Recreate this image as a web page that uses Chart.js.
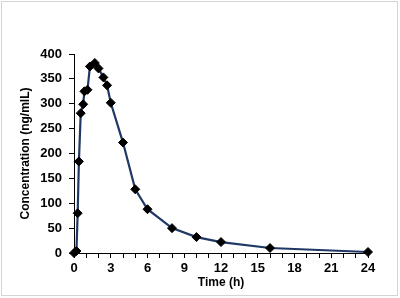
<!DOCTYPE html>
<html>
<head>
<meta charset="utf-8">
<script src="https://cdn.jsdelivr.net/npm/chart.js@4/dist/chart.umd.min.js"></script>
<style>
html,body{margin:0;padding:0;background:#fff;}
#wrap{width:400px;height:298px;position:relative;}
</style>
</head>
<body>
<div id="wrap"><canvas id="c" width="400" height="298"></canvas></div>
<script>
const timeHours = [0, 0.2, 0.3, 0.4, 0.55, 0.75, 0.85, 1.1, 1.3, 1.7, 2, 2.4, 2.7, 3, 4, 5, 6, 8, 10, 12, 16, 24];
const concentration = [0, 4, 80, 184, 281, 299, 325, 328, 375, 382, 371, 353, 337, 302, 222, 128, 88, 50, 32, 22, 10, 2];
const xTickLabels = ['0', '3', '6', '9', '12', '15', '18', '21', '24'];
const yTickLabels = ['0', '50', '100', '150', '200', '250', '300', '350', '400'];

const points = timeHours.map((t, i) => ({x: t, y: concentration[i]}));
const tickFont = {family: 'Liberation Sans, Arial, sans-serif', size: 13, weight: 'bold'};
const titleFont = {family: 'Liberation Sans, Arial, sans-serif', size: 12, weight: 'bold'};

const framePlugin = {
  id: 'frame',
  afterDraw(chart) {
    const ctx = chart.ctx;
    ctx.save();
    ctx.strokeStyle = '#d4d4d4';
    ctx.lineWidth = 1;
    ctx.strokeRect(1.5, 1.5, 396, 294);
    ctx.restore();
  }
};

new Chart(document.getElementById('c'), {
  type: 'line',
  data: {
    datasets: [{
      data: points,
      clip: false,
      borderColor: '#1f3864',
      borderWidth: 2.2,
      pointStyle: 'rectRot',
      pointRadius: 4.5,
      pointBackgroundColor: '#000',
      pointBorderColor: '#000',
      pointBorderWidth: 1,
      tension: 0,
      fill: false
    }]
  },
  options: {
    responsive: false,
    animation: false,
    devicePixelRatio: 1,
    layout: {padding: {left: 0, right: 32, top: 54, bottom: 0}},
    plugins: {legend: {display: false}, tooltip: {enabled: false}},
    scales: {
      x: {
        type: 'linear',
        min: 0, max: 24,
        afterFit(s) { s.height = 45; },
        border: {color: '#000', width: 1},
        grid: {drawOnChartArea: false, drawTicks: true, tickLength: 5, color: '#000'},
        ticks: {
          stepSize: 1, autoSkip: false, maxRotation: 0, padding: 3,
          color: '#000', font: tickFont,
          callback: (v) => (v % 3 === 0 ? xTickLabels[v / 3] : '')
        },
        title: {display: true, text: 'Time (h)', color: '#000', font: titleFont, padding: {top: 0, bottom: 8}}
      },
      y: {
        min: 0, max: 400,
        afterFit(s) { s.width = 74; },
        border: {color: '#000', width: 1},
        grid: {drawOnChartArea: false, drawTicks: true, tickLength: 5, color: '#000'},
        ticks: {
          stepSize: 50, padding: 7, color: '#000', font: tickFont,
          callback: (v) => yTickLabels[v / 50]
        },
        title: {display: true, text: 'Concentration (ng/mlL)', color: '#000', font: titleFont, padding: {top: 18, bottom: 0}}
      }
    }
  },
  plugins: [framePlugin]
});
</script>
</body>
</html>
